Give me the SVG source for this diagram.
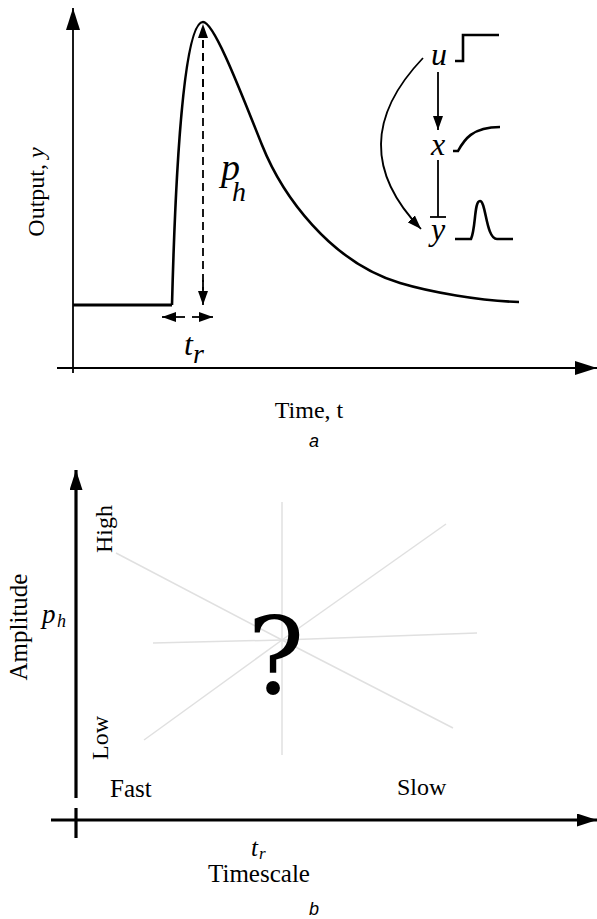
<svg xmlns="http://www.w3.org/2000/svg" width="597" height="919" viewBox="0 0 597 919">
<style>
.serif{font-family:"Liberation Serif","Times New Roman",serif;fill:#000}
.it{font-style:italic}
.sans{font-family:"Liberation Sans",Arial,sans-serif;fill:#000}
.ax{stroke:#000;fill:none}
.grey{stroke:#e0e0e0;stroke-width:1.5;fill:none}
</style>
<defs>
<marker id="bigArrow" viewBox="0 0 22 14" refX="22" refY="7" markerWidth="22" markerHeight="14" markerUnits="userSpaceOnUse" orient="auto"><path d="M0,0 L22,7 L0,14 z" fill="#000"/></marker>
<marker id="axArrowB" viewBox="0 0 20 13" refX="20" refY="6.5" markerWidth="20" markerHeight="13" markerUnits="userSpaceOnUse" orient="auto"><path d="M0,0 L20,6.5 L0,13 z" fill="#000"/></marker>
<marker id="smallArrow" viewBox="0 0 14 10" refX="14" refY="5" markerWidth="14" markerHeight="10" markerUnits="userSpaceOnUse" orient="auto"><path d="M0,0 L14,5 L0,10 z" fill="#000"/></marker>
</defs>

<g id="panel-a">
  <g id="a-axes">
    <line class="ax" x1="73" y1="373" x2="73" y2="8" stroke-width="1.8" marker-end="url(#bigArrow)"/>
    <line class="ax" x1="57" y1="368" x2="597" y2="368" stroke-width="1.8" marker-end="url(#bigArrow)"/>
  </g>
  <g id="a-curve">
    <path class="ax" d="M73,305 L172,305" stroke-width="3.2"/>
    <path class="ax" stroke-width="2.6" d="M172,305 C176,150 185,22 203,22 C214,22 240,90 262,145 C282,195 330,262 400,283 C430,292 480,301 519,302"/>
  </g>
  <g id="a-connectors">
    <line class="ax" x1="203" y1="40" x2="203" y2="290" stroke-width="1.8" stroke-dasharray="8,5"/>
    <line class="ax" x1="203" y1="100" x2="203" y2="24" stroke-width="1.8" stroke-dasharray="8,5" marker-end="url(#smallArrow)"/>
    <line class="ax" x1="203" y1="280" x2="203" y2="305" stroke-width="1.8" marker-end="url(#smallArrow)"/>
    <line class="ax" x1="185" y1="317" x2="162" y2="317" stroke-width="1.8" marker-end="url(#smallArrow)"/>
    <line class="ax" x1="192" y1="317" x2="213" y2="317" stroke-width="1.8" marker-end="url(#smallArrow)"/>
  </g>
  <g id="a-labels">
    <text class="serif it" x="221" y="180" font-size="38">p</text>
    <text class="serif it" x="232" y="201" font-size="28">h</text>
    <text class="serif it" x="184" y="355" font-size="32">t</text>
    <text class="serif it" x="193" y="363" font-size="28">r</text>
    <text class="serif" font-size="24" text-anchor="middle" transform="translate(44,192) rotate(-90)">Output, <tspan class="it">y</tspan></text>
    <text class="serif" x="309" y="418" font-size="24" text-anchor="middle">Time, t</text>
    <text class="sans it" x="314" y="447" font-size="18" text-anchor="middle">a</text>
  </g>
  <g id="inset">
    <g id="node-u">
      <text class="serif it" x="439" y="65" font-size="32" text-anchor="middle">u</text>
      <path class="ax" stroke-width="2.6" d="M455,61 H463 V35 H499"/>
    </g>
    <g id="node-x">
      <text class="serif it" x="438" y="155" font-size="32" text-anchor="middle">x</text>
      <path class="ax" stroke-width="2.6" d="M453,151 H458 C464,140 472,127 500,127"/>
    </g>
    <g id="node-y">
      <text class="serif it" x="438" y="240" font-size="32" text-anchor="middle">y</text>
      <path class="ax" stroke-width="2.6" d="M455,239 H471 C476,228 474,201 480,201 C486,201 486,239 497,239 H513"/>
    </g>
    <g id="inset-connectors">
      <line class="ax" x1="438" y1="72" x2="438" y2="130" stroke-width="1.8" marker-end="url(#smallArrow)"/>
      <line class="ax" x1="438" y1="160" x2="438" y2="217" stroke-width="1.8"/>
      <line class="ax" x1="430" y1="217" x2="446" y2="217" stroke-width="1.8"/>
      <path class="ax" stroke-width="1.8" d="M423,58 Q340,145 421,229" marker-end="url(#smallArrow)"/>
    </g>
  </g>
</g>

<g id="panel-b">
  <g id="b-rays">
    <line class="grey" x1="282" y1="502" x2="282" y2="755"/>
    <line class="grey" x1="116" y1="553" x2="282" y2="640"/>
    <line class="grey" x1="153" y1="643" x2="282" y2="640"/>
    <line class="grey" x1="144" y1="740" x2="282" y2="640"/>
    <line class="grey" x1="282" y1="640" x2="446" y2="524"/>
    <line class="grey" x1="282" y1="640" x2="477" y2="633"/>
    <line class="grey" x1="282" y1="640" x2="453" y2="728"/>
  </g>
  <g id="b-axes">
    <line class="ax" x1="76" y1="798" x2="76" y2="470" stroke-width="3.2" marker-end="url(#axArrowB)"/>
    <line class="ax" x1="51" y1="820" x2="597" y2="820" stroke-width="3.2" marker-end="url(#axArrowB)"/>
    <line class="ax" x1="76" y1="808" x2="76" y2="838" stroke-width="3.2"/>
  </g>
  <g id="b-labels">
    <text x="276" y="693" font-size="106" text-anchor="middle" font-family="'DejaVu Serif',serif" fill="#000">?</text>
    <text class="serif" font-size="25" text-anchor="middle" transform="translate(27,627) rotate(-90)">Amplitude</text>
    <text class="serif" font-size="24" text-anchor="middle" transform="translate(112,529) rotate(-90)">High</text>
    <text class="serif" font-size="24" text-anchor="middle" transform="translate(108,738) rotate(-90)">Low</text>
    <text class="serif it" x="42" y="623" font-size="27">p</text>
    <text class="serif it" x="57" y="627" font-size="18">h</text>
    <text class="serif" x="110" y="797" font-size="25">Fast</text>
    <text class="serif" x="397" y="795" font-size="24">Slow</text>
    <text class="serif it" x="251" y="856" font-size="25">t</text>
    <text class="serif it" x="259" y="859" font-size="17">r</text>
    <text class="serif" x="259" y="882" font-size="25" text-anchor="middle">Timescale</text>
    <text class="sans it" x="314" y="915" font-size="18" text-anchor="middle">b</text>
  </g>
</g>
</svg>
